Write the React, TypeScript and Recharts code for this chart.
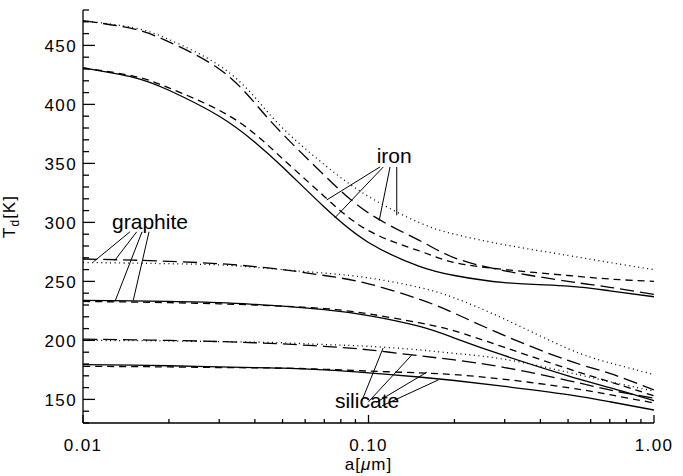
import { LineChart, Line, XAxis, YAxis, ReferenceLine, ReferenceDot } from 'recharts';

const FONT = '"Liberation Sans", Arial, Helvetica, sans-serif';

// grain radius a [micron]
const radii = [0.01, 0.015, 0.02, 0.03, 0.04, 0.05, 0.07, 0.1, 0.15, 0.2, 0.3, 0.5, 0.7, 1.0];

// dust temperatures T_d [K], four line styles per material
const ironSolid = [431, 423, 412, 390, 368, 347, 313, 283, 263, 255, 249, 246, 242, 237];
const ironDash = [431, 424, 414, 395, 375, 354, 322, 293, 276, 266, 260, 255, 252, 250];
const ironLong = [471, 464, 453, 430, 401, 375, 340, 308, 285, 270, 259, 250, 245, 239];
const ironDot = [471, 465, 455, 433, 406, 380, 349, 322, 300, 290, 281, 272, 266, 260];

const graphiteSolid = [234, 233.5, 233, 232, 230.5, 229, 226, 221, 212, 202, 187, 170, 160, 149];
const graphiteDash = [233, 232.5, 232, 231, 230, 229, 227, 222.5, 215, 208, 194, 176, 165, 153];
const graphiteLong = [269, 268, 267, 265, 262.5, 260, 255, 248, 235, 223, 204, 183, 172, 158];
const graphiteDot = [266, 265.5, 265, 264, 262, 260, 257, 253, 245, 236, 218, 193, 181, 171];

const silicateSolid = [179.5, 179, 178.5, 177.5, 177, 176.5, 175, 172.5, 169, 166, 161, 154, 148, 141];
const silicateDash = [178, 177.8, 177.5, 177, 176.8, 176.5, 175.5, 174, 172.5, 171, 167, 160, 154, 147];
const silicateLong = [201, 200.5, 200, 199, 198, 197, 195, 192, 187, 183.5, 177, 166, 158, 151];
const silicateDot = [200, 199.8, 199.5, 199, 198.5, 198, 196.5, 195, 192, 189, 184, 173, 165, 157];

const xTicks = [
  0.01, 0.02, 0.03, 0.04, 0.05, 0.06, 0.07, 0.08, 0.09,
  0.1, 0.2, 0.3, 0.4, 0.5, 0.6, 0.7, 0.8, 0.9, 1.0,
];
const xMajor = [0.01, 0.1, 1.0];
const yTicks = Array.from({ length: 36 }, (_, i) => 130 + i * 10);

// leader lines from the material labels to the curves, [a, T] pairs
const leaders = [
  // iron
  [[0.1097, 347], [0.0714, 319]],
  [[0.1127, 347], [0.0763, 304]],
  [[0.119, 347], [0.109, 301.5]],
  [[0.1256, 347], [0.1256, 306]],
  // graphite
  [[0.0146, 292], [0.01087, 266.5]],
  [[0.01542, 292], [0.01294, 268]],
  [[0.0161, 292], [0.01294, 233]],
  [[0.01703, 292], [0.015, 234]],
  // silicate
  [[0.0945, 148], [0.1125, 193.5]],
  [[0.1, 148], [0.1416, 187.5]],
  [[0.1065, 147.5], [0.16, 173]],
  [[0.1115, 144.5], [0.1756, 166.5]],
];

const labels = [
  { text: 'iron', a: 0.1068, t: 350 },
  { text: 'graphite', a: 0.01264, t: 294 },
  { text: 'silicate', a: 0.0763, t: 143 },
];

const series = [
  { key: 'ironSolid', values: ironSolid, dash: undefined },
  { key: 'ironDash', values: ironDash, dash: '7 5' },
  { key: 'ironLong', values: ironLong, dash: '14 6' },
  { key: 'ironDot', values: ironDot, dash: '1 3.5' },
  { key: 'graphiteSolid', values: graphiteSolid, dash: undefined },
  { key: 'graphiteDash', values: graphiteDash, dash: '7 5' },
  { key: 'graphiteLong', values: graphiteLong, dash: '14 6' },
  { key: 'graphiteDot', values: graphiteDot, dash: '1 3.5' },
  { key: 'silicateSolid', values: silicateSolid, dash: undefined },
  { key: 'silicateDash', values: silicateDash, dash: '7 5' },
  { key: 'silicateLong', values: silicateLong, dash: '14 6' },
  { key: 'silicateDot', values: silicateDot, dash: '1 3.5' },
];

const data = radii.map((a, i) => {
  const row: Record<string, number> = { a };
  series.forEach((s) => {
    row[s.key] = s.values[i];
  });
  return row;
});

const fmtX = (v: number) => v.toFixed(2);

function makeTick(side: 'left' | 'right' | 'top' | 'bottom') {
  return (props: any) => {
    const { x, y, payload } = props;
    const v = payload.value;
    if (side === 'left' || side === 'right') {
      const major = v % 50 === 0;
      const len = major ? 12 : 6;
      const dir = side === 'left' ? 1 : -1;
      return (
        <g>
          <line x1={x} y1={y} x2={x + dir * len} y2={y} stroke="#000" strokeWidth={1.3} />
          {side === 'left' && major && (
            <text x={x - 6} y={y} dy="0.36em" textAnchor="end" fontSize={17} letterSpacing={1.4} fontFamily={FONT} fill="#000">
              {v}
            </text>
          )}
        </g>
      );
    }
    const major = xMajor.some((m) => Math.abs(m - v) < 1e-9);
    const len = major ? 8 : 4;
    const dir = side === 'bottom' ? -1 : 1;
    return (
      <g>
        <line x1={x} y1={y} x2={x} y2={y + dir * len} stroke="#000" strokeWidth={1.3} />
        {side === 'bottom' && major && (
          <text x={x} y={y + 28} textAnchor="middle" fontSize={17} letterSpacing={1.4} fontFamily={FONT} fill="#000">
            {fmtX(v)}
          </text>
        )}
      </g>
    );
  };
}

const textShape = (label: string) => (p: any) => (
  <text x={p.cx} y={p.cy} fontSize={21} fontFamily={FONT} fill="#000">
    {label}
  </text>
);

export default function App() {
  return (
    <div style={{ position: 'absolute', left: 0, top: 0, background: '#fff' }}>
      <LineChart width={683} height={476} data={data} margin={{ top: 10, right: 29, bottom: 0, left: 0 }}>
        <XAxis
          dataKey="a"
          type="number"
          scale="log"
          domain={[0.01, 1]}
          ticks={xTicks}
          interval={0}
          height={53}
          tickSize={0}
          tickMargin={0}
          tickLine={false}
          tick={makeTick('bottom')}
          stroke="#000"
          strokeWidth={1.3}
          allowDataOverflow
          label={{
            content: (p: any) => {
              const vb = p.viewBox;
              return (
                <text x={vb.x + vb.width / 2} y={vb.y + 47} textAnchor="middle" fontSize={17} letterSpacing={1} fontFamily={FONT} fill="#000">
                  a[<tspan fontStyle="italic">μ</tspan>m]
                </text>
              );
            },
          }}
        />
        <XAxis
          xAxisId="top"
          orientation="top"
          dataKey="a"
          type="number"
          scale="log"
          domain={[0.01, 1]}
          ticks={xTicks}
          interval={0}
          height={0}
          tickSize={0}
          tickMargin={0}
          tickLine={false}
          tick={makeTick('top')}
          stroke="#000"
          strokeWidth={1.3}
          allowDataOverflow
        />
        <YAxis
          type="number"
          domain={[130, 480]}
          ticks={yTicks}
          interval={0}
          width={83}
          tickSize={0}
          tickMargin={0}
          tickLine={false}
          tick={makeTick('left')}
          stroke="#000"
          strokeWidth={1.3}
          allowDataOverflow
          label={{
            content: (p: any) => {
              const vb = p.viewBox;
              const cx = vb.x + 15;
              const cy = vb.y + vb.height / 2;
              return (
                <text
                  x={cx}
                  y={cy}
                  transform={`rotate(-90 ${cx} ${cy})`}
                  textAnchor="middle"
                  fontSize={17}
                  letterSpacing={1}
                  fontFamily={FONT}
                  fill="#000"
                >
                  T<tspan fontSize={12} dy={4}>d</tspan>
                  <tspan dy={-4}>[K]</tspan>
                </text>
              );
            },
          }}
        />
        <YAxis
          yAxisId="right"
          orientation="right"
          type="number"
          domain={[130, 480]}
          ticks={yTicks}
          interval={0}
          width={0}
          tickSize={0}
          tickMargin={0}
          tickLine={false}
          tick={makeTick('right')}
          stroke="#000"
          strokeWidth={1.3}
          allowDataOverflow
        />
        {series.map((s) => (
          <Line
            key={s.key}
            dataKey={s.key}
            type="natural"
            stroke="#000"
            strokeWidth={1.3}
            strokeDasharray={s.dash}
            dot={false}
            activeDot={false}
            isAnimationActive={false}
          />
        ))}
        {leaders.map((seg, i) => (
          <ReferenceLine
            key={`leader-${i}`}
            segment={[
              { x: seg[0][0], y: seg[0][1] },
              { x: seg[1][0], y: seg[1][1] },
            ]}
            stroke="#000"
            strokeWidth={1}
          />
        ))}
        {labels.map((l) => (
          <ReferenceDot key={l.text} x={l.a} y={l.t} r={0} shape={textShape(l.text)} />
        ))}
      </LineChart>
    </div>
  );
}
